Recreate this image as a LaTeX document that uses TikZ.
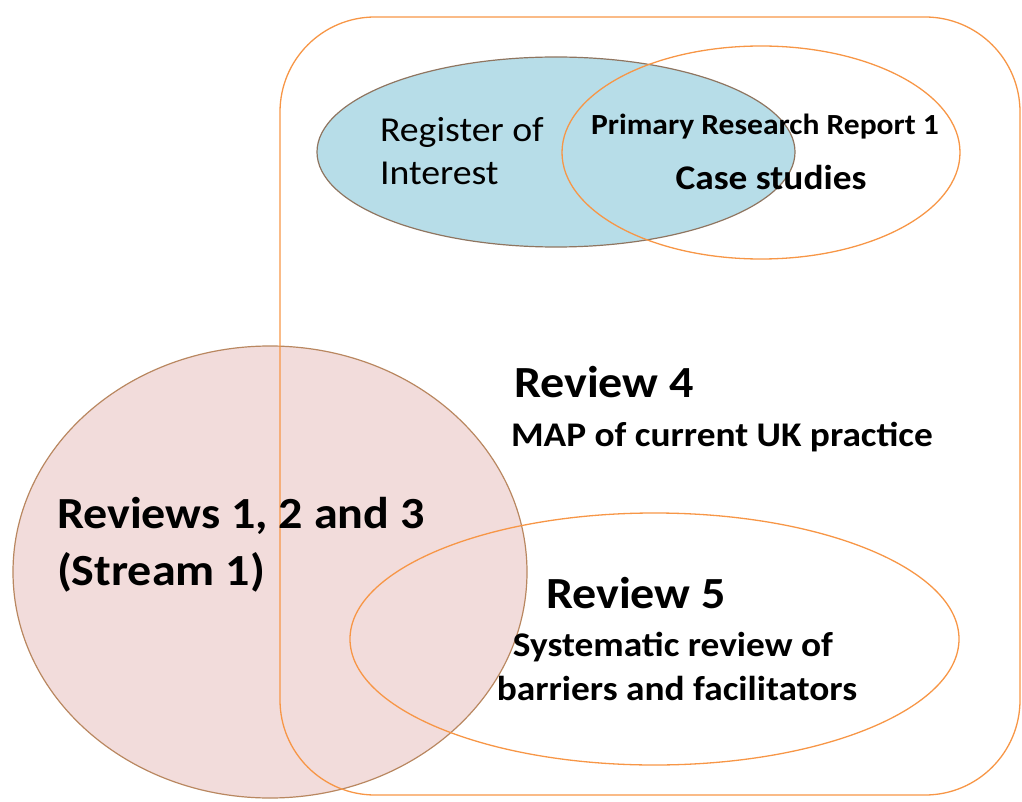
\documentclass[tikz,border=0pt]{standalone}
\usepackage{fontspec}
\setmainfont{Carlito}[FakeStretch=1.08]
\usetikzlibrary{shapes.geometric}
\definecolor{orng}{HTML}{F79646}
\definecolor{bluefill}{HTML}{B7DDE8}
\definecolor{blueedge}{HTML}{8F7560}
\definecolor{pinkfill}{HTML}{F2DCDB}
\definecolor{pinkedge}{HTML}{B98760}
\tikzset{
  region/.style={ellipse, inner sep=0pt, outer sep=0pt},
  frameline/.style={draw=orng, line width=1.3pt},
  lbl/.style={inner sep=0pt, outer sep=0pt},
  bigtxt/.style={lbl, font=\bfseries\fontsize{44.5}{52}\selectfont},
  midtxt/.style={lbl, font=\bfseries\fontsize{34.6}{40}\selectfont},
  regtxt/.style={lbl, font=\fontsize{35}{40}\selectfont},
  smalltxt/.style={lbl, font=\bfseries\fontsize{29.2}{34}\selectfont}
}
\begin{document}
\begin{tikzpicture}[x=1pt,y=-1pt]
\useasboundingbox (0,0) rectangle (1022,802);
% register of interest (filled)
\node[region, fill=bluefill, draw=blueedge, line width=1.2pt,
      minimum width=478pt, minimum height=190pt] (roi) at (556,152) {};
% reviews 1-3 (filled)
\node[region, fill=pinkfill, draw=pinkedge, line width=1.2pt,
      minimum width=514pt, minimum height=452pt] (rev13) at (270,572) {};
% outer rounded frame (review 4)
\node[frameline, rectangle, rounded corners=95pt, inner sep=0pt, outer sep=0pt,
      minimum width=740pt, minimum height=778pt] (rev4) at (650,406) {};
% primary research ellipse
\node[region, frameline, minimum width=398pt, minimum height=213pt] (prr) at (761,152.5) {};
% review 5 ellipse
\node[region, frameline, minimum width=609pt, minimum height=252pt] (rev5) at (654.5,639) {};
% texts
\node[regtxt, anchor=base west] (roi1) at (380,142) {Register of};
\node[regtxt, anchor=base west] (roi2) at (380,185) {Interest};
\node[smalltxt, anchor=base] (prr1) at (765,135) {Primary Research Report 1};
\node[midtxt, anchor=base] (prr2) at (771,190) {Case studies};
\node[bigtxt, anchor=base west] (rev4a) at (514,397) {Review 4};
\node[midtxt, anchor=base west] (rev4b) at (511,446) {MAP of current UK practice};
\node[bigtxt, anchor=base west] (rev13a) at (57,528) {Reviews 1, 2 and 3};
\node[bigtxt, anchor=base west] (rev13b) at (57,585) {(Stream 1)};
\node[bigtxt, anchor=base west] (rev5a) at (546,608) {Review 5};
\node[midtxt, anchor=base] (rev5b) at (673,656) {Systematic review of};
\node[midtxt, anchor=base] (rev5c) at (677,700) {barriers and facilitators};
\end{tikzpicture}
\end{document}
